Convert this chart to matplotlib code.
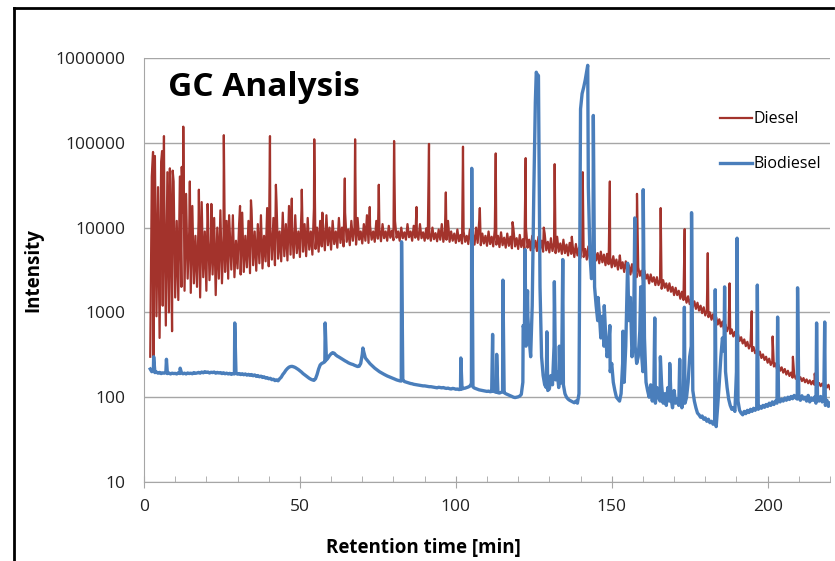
import numpy as np
import matplotlib.pyplot as plt
from matplotlib.lines import Line2D
from matplotlib.ticker import FixedLocator, FuncFormatter, MultipleLocator

plt.rcParams['font.family'] = ['Open Sans', 'DejaVu Sans']

# diesel trace, read every half minute from 2 to 220 min
diesel_t0 = 2.0
diesel_step = 0.5
diesel_base = [
    300, 40000, 250, 70000, 900, 30000, 500, 60000, 1200, 25000,          # 2
    700, 45000, 1000, 20000, 600, 35000, 1500, 12000, 1400, 40000,        # 7
    2000, 15000, 1800, 25000, 2500, 9000, 1700, 18000, 2200, 8000,        # 12
    2000, 12000, 1500, 20000, 2600, 9000, 1800, 15000, 2400, 7000,        # 17
    2800, 13000, 1600, 10000, 2500, 16000, 2200, 8000, 3000, 12000,       # 22
    2500, 9000, 3200, 14000, 2600, 7000, 3300, 11000, 2800, 15000,        # 27
    3000, 8000, 3400, 12000, 2900, 16000, 3600, 9000, 3100, 11000,        # 32
    3800, 14000, 3300, 8000, 4000, 17000, 3500, 10000, 4200, 13000,       # 37
    3600, 20000, 4300, 9000, 4000, 15000, 4600, 11000, 4100, 18000,       # 42
    4800, 10000, 4400, 14000, 5000, 9000, 4500, 16000, 5200, 11000,       # 47
    4600, 13000, 5500, 9000, 4800, 17000, 5600, 10000, 5200, 12000,       # 52
    6000, 9500, 5400, 14000, 6200, 10000, 5500, 12000, 6400, 9000,        # 57
    5800, 13000, 6600, 10000, 6000, 15000, 6800, 9500, 6200, 12000,       # 62
    7000, 10000, 6300, 13000, 7200, 9000, 6500, 11000, 7000, 14000,       # 67
    6600, 10500, 7200, 9000, 6800, 12000, 7400, 9500, 6900, 11000,        # 72
    7500, 9000, 7000, 10500, 7600, 9200, 7100, 12000, 7600, 9000,         # 77
    7000, 10000, 7500, 8800, 7200, 11000, 7700, 9000, 7000, 10500,        # 82
    7600, 9000, 7200, 11000, 7500, 8800, 7000, 9800, 7400, 8600,          # 87
    7000, 10000, 7300, 8600, 6900, 9500, 7200, 11000, 6800, 9000,         # 92
    7200, 12000, 6800, 9000, 7000, 8500, 6600, 9500, 6900, 8200,          # 97
    6500, 9000, 6800, 8000, 6400, 9500, 6700, 8300, 6300, 10000,          # 102
    6600, 12000, 6200, 8500, 6500, 8000, 6100, 9000, 6400, 7800,          # 107
    6000, 9500, 6300, 8000, 5900, 8800, 6200, 7600, 5800, 8500,           # 112
    6100, 7800, 5700, 9500, 6000, 7500, 5600, 8200, 5900, 7300,           # 117
    5500, 10000, 5800, 7200, 5400, 8000, 5700, 7000, 5300, 7800,          # 122
    5500, 7000, 5200, 8500, 5400, 6800, 5100, 7500, 5300, 6600,           # 127
    5000, 7800, 5200, 6500, 4900, 7200, 5000, 6300, 4700, 6600,           # 132
    4900, 6000, 4500, 6400, 4700, 5800, 4400, 6500, 4500, 5600,           # 137
    4200, 6000, 4300, 5300, 4000, 5500, 4100, 5000, 3800, 5200,           # 142
    3900, 4800, 3600, 4900, 3700, 4500, 3400, 4600, 3500, 4200,           # 147
    3200, 4300, 3300, 3900, 3000, 4000, 3100, 3600, 2800, 3700,           # 152
    2900, 3300, 2600, 3400, 2700, 3100, 2400, 3100, 2500, 2800,           # 157
    2200, 2800, 2300, 2600, 2100, 2600, 2100, 2400, 1900, 2400,           # 162
    1950, 2200, 1800, 2200, 1750, 2000, 1600, 1950, 1600, 1800,           # 167
    1450, 1750, 1400, 1600, 1300, 1550, 1250, 1450, 1150, 1350,           # 172
    1100, 1300, 1050, 1200, 980, 1150, 920, 1050, 880, 1000,              # 177
    820, 950, 780, 880, 720, 830, 680, 780, 630, 720,                     # 182
    600, 680, 560, 630, 520, 590, 490, 550, 460, 510,                     # 187
    430, 480, 400, 450, 375, 420, 350, 390, 330, 360,                     # 192
    310, 345, 290, 320, 275, 300, 255, 285, 240, 265,                     # 197
    230, 250, 215, 240, 205, 225, 195, 215, 185, 205,                     # 202
    178, 195, 170, 188, 165, 180, 160, 172, 155, 168,                     # 207
    150, 162, 146, 158, 142, 155, 140, 150, 137, 147,                     # 212
    135, 145, 132, 142, 130, 140, 125,                                    # 217
]
diesel_peak_t = [2.9, 5.8, 6.4, 8.3, 9.2, 12.1, 12.6, 14.7, 17.6, 20.4, 21.6,
                 25.6, 27.3, 30.8, 34.3, 40.4, 42.3, 47.4, 50.6, 54.6, 57.2,
                 64.4, 67.7, 72.4, 75.3, 80.2, 87.4, 91.4, 96.8, 102.3, 107.7,
                 112.8, 118.2, 122.4, 128.2, 131.7, 137.2, 140.7, 149.4, 152.6,
                 158.1, 165.7, 173.4, 180.8, 187.8, 194.9, 201.6, 208.1, 215.1]
diesel_peak_v = [78000, 80000, 120000, 50000, 47000, 52000, 155000, 35000, 28000,
                 19000, 19000, 123000, 14000, 18000, 21000, 120000, 32000, 22000,
                 28000, 110000, 15000, 38000, 110000, 17500, 32000, 105000, 17500,
                 97000, 26000, 90000, 17000, 75000, 11600, 66000, 10000, 56000,
                 7800, 45000, 35000, 4700, 25000, 17000, 9600, 5000, 2200, 1030,
                 520, 300, 190]

# biodiesel trace, read every half minute from 2 to 220 min
bio_t0 = 2.0
bio_step = 0.5
bio_base = [
    215, 200, 205, 195, 198, 192, 196, 190, 194, 192,                     # 2
    195, 190, 193, 188, 192, 190, 191, 188, 194, 190,                     # 7
    195, 189, 192, 188, 193, 190, 192, 189, 195, 191,                     # 12
    193, 196, 192, 198, 194, 200, 196, 198, 193, 197,                     # 17
    195, 198, 192, 196, 193, 195, 190, 194, 189, 192,                     # 22
    188, 191, 186, 190, 188, 192, 187, 190, 185, 189,                     # 27
    184, 188, 182, 186, 181, 185, 179, 183, 176, 180,                     # 32
    174, 177, 171, 174, 168, 170, 165, 167, 161, 163,                     # 37
    157, 160, 156, 165, 172, 185, 195, 208, 218, 226,                     # 42
    230, 231, 228, 224, 218, 212, 205, 198, 190, 184,                     # 47
    178, 172, 167, 163, 160, 158, 165, 185, 215, 240,                     # 52
    250, 255, 262, 275, 290, 310, 325, 335, 330, 315,                     # 57
    305, 298, 290, 282, 275, 268, 262, 255, 250, 246,                     # 62
    243, 238, 234, 230, 232, 250, 320, 340, 290, 275,                     # 67
    260, 248, 238, 228, 220, 213, 206, 200, 195, 190,                     # 72
    186, 182, 178, 175, 172, 169, 166, 163, 160, 158,                     # 77
    156, 155, 162, 153, 151, 149, 147, 145, 144, 142,                     # 82
    141, 140, 139, 138, 137, 136, 136, 135, 134, 133,                     # 87
    133, 132, 131, 130, 129, 131, 130, 129, 130, 128,                     # 92
    127, 128, 126, 125, 127, 126, 124, 125, 123, 124,                     # 97
    125, 127, 128, 130, 132, 135, 145, 132, 128, 126,                     # 102
    124, 122, 121, 120, 119, 118, 117, 118, 116, 117,                     # 107
    118, 116, 114, 113, 112, 114, 116, 113, 110, 108,                     # 112
    106, 104, 102, 100, 99, 100, 101, 103, 108, 150,                      # 117
    600, 400, 1800, 500, 300, 1200, 25000, 300000, 650000, 620000,        # 122
    2000, 300, 180, 140, 130, 120, 125, 180, 140, 400,                    # 127
    160, 200, 130, 145, 350, 140, 110, 100, 95, 92,                       # 132
    90, 88, 86, 90, 85, 110, 250000, 380000, 450000, 550000,              # 137
    700000, 30000, 5000, 2500, 3000, 2000, 1200, 800, 1000, 500,          # 142
    900, 400, 600, 300, 400, 200, 250, 150, 120, 100,                     # 147
    95, 90, 110, 250, 150, 400, 2500, 800, 1500, 300,                     # 152
    500, 400, 250, 300, 600, 350, 200, 500, 150, 120,                     # 157
    100, 140, 90, 120, 85, 130, 100, 90, 140, 85,                         # 162
    110, 80, 130, 90, 100, 75, 120, 85, 95, 80,                           # 167
    110, 75, 95, 85, 100, 150, 300, 400, 120, 90,                         # 172
    75, 65, 62, 58, 60, 55, 57, 52, 55, 50,                               # 177
    52, 48, 50, 45, 80, 150, 300, 500, 350, 200,                          # 182
    130, 95, 80, 72, 75, 68, 200, 90, 70, 65,                             # 187
    62, 68, 64, 70, 66, 72, 68, 74, 70, 76,                               # 192
    72, 78, 74, 80, 76, 82, 78, 85, 80, 88,                               # 197
    82, 90, 85, 92, 88, 95, 90, 98, 92, 100,                              # 202
    94, 102, 96, 105, 98, 95, 100, 92, 104, 95,                           # 207
    100, 90, 105, 88, 98, 92, 100, 85, 96, 90,                            # 212
    102, 88, 95, 80, 92, 78, 85,                                          # 217
]
bio_peak_t = [3.1, 7.2, 11.6, 29.1, 58.1, 70.2, 82.6, 101.6, 105.1, 111.8,
              113.1, 115.1, 121.6, 122.2, 123.1, 125.8, 129.2, 131.6, 133.2,
              134.3, 142.3, 144.1, 145.6, 146.8, 147.6, 149.4, 153.6, 155.1,
              157.4, 159.3, 160.1, 163.8, 165.6, 168.6, 171.8, 173.3, 175.6,
              183.2, 186.2, 190.2, 196.7, 203.2, 209.6, 215.7, 218.3]
bio_peak_v = [300, 280, 220, 750, 750, 380, 6800, 290, 50000, 550,
              320, 2400, 700, 5500, 900, 680000, 590, 2300, 400,
              4200, 820000, 210000, 1500, 700, 1200, 700, 600, 3800,
              13000, 2000, 28000, 860, 300, 250, 280, 1150, 15000,
              1850, 2000, 7500, 2100, 880, 1950, 750, 770]


def merge(t0, step, base, peak_t, peak_v):
    t = np.concatenate([t0 + step * np.arange(len(base)), peak_t])
    v = np.concatenate([base, peak_v])
    o = np.argsort(t, kind='stable')
    return t[o], v[o]


dt, dv = merge(diesel_t0, diesel_step, diesel_base, diesel_peak_t, diesel_peak_v)
bt, bv = merge(bio_t0, bio_step, bio_base, bio_peak_t, bio_peak_v)

fig = plt.figure(figsize=(8.35, 5.61), dpi=100)
ax = fig.add_axes([144 / 835, 1 - 482 / 561, 686 / 835, 424 / 561])

ax.plot(dt, dv, color='#a3332c', lw=1.6, label='Diesel')
ax.plot(bt, bv, color='#4a7ebb', lw=2.4, label='Biodiesel')

ax.set_yscale('log')
ax.set_ylim(10, 1000000)
ax.set_xlim(0, 220)
ax.yaxis.set_major_locator(FixedLocator([10, 100, 1000, 10000, 100000, 1000000]))
ax.yaxis.set_minor_locator(FixedLocator([]))
ax.yaxis.set_major_formatter(FuncFormatter(lambda v, p: '%d' % v))
ax.xaxis.set_major_locator(MultipleLocator(50))
ax.xaxis.set_minor_locator(MultipleLocator(10))
ax.grid(axis='y', color='#a6a6a6', lw=1)
ax.set_axisbelow(True)
for s in ['top', 'right']:
    ax.spines[s].set_visible(False)
for s in ['left', 'bottom']:
    ax.spines[s].set_color('#a6a6a6')
ax.tick_params(axis='y', length=0, labelsize=12.5, pad=13.5, colors='#222222')
ax.tick_params(axis='x', which='major', direction='inout', length=9,
               color='#a6a6a6', labelsize=12.5, pad=8, labelcolor='#222222')
ax.tick_params(axis='x', which='minor', direction='in', length=4, color='#a6a6a6')

ax.set_xlabel('Retention time [min]', fontsize=13.5, fontweight='bold')
ax.xaxis.set_label_coords((423 - 144) / 686, (482 - 538) / 424)
ax.set_ylabel('Intensity', fontsize=13.5, fontweight='bold')
ax.yaxis.set_label_coords((43 - 144) / 686, 0.5)

fig.text(168 / 835, 1 - 96 / 561, 'GC Analysis', fontsize=24,
         fontweight='bold', va='baseline')

ax.legend(loc='upper left', bbox_to_anchor=((706 - 144) / 686, (482 - 97) / 424),
          frameon=False, fontsize=11.5, handlelength=2.0, handletextpad=0.1,
          labelspacing=1.8)

# outer frame
fig.add_artist(Line2D([14 / 835, 14 / 835], [0, 1 - 8 / 561], color='black', lw=2))
fig.add_artist(Line2D([14 / 835, 833 / 835], [1 - 8 / 561, 1 - 8 / 561], color='black', lw=2))

fig.savefig('out.png', dpi=100)
